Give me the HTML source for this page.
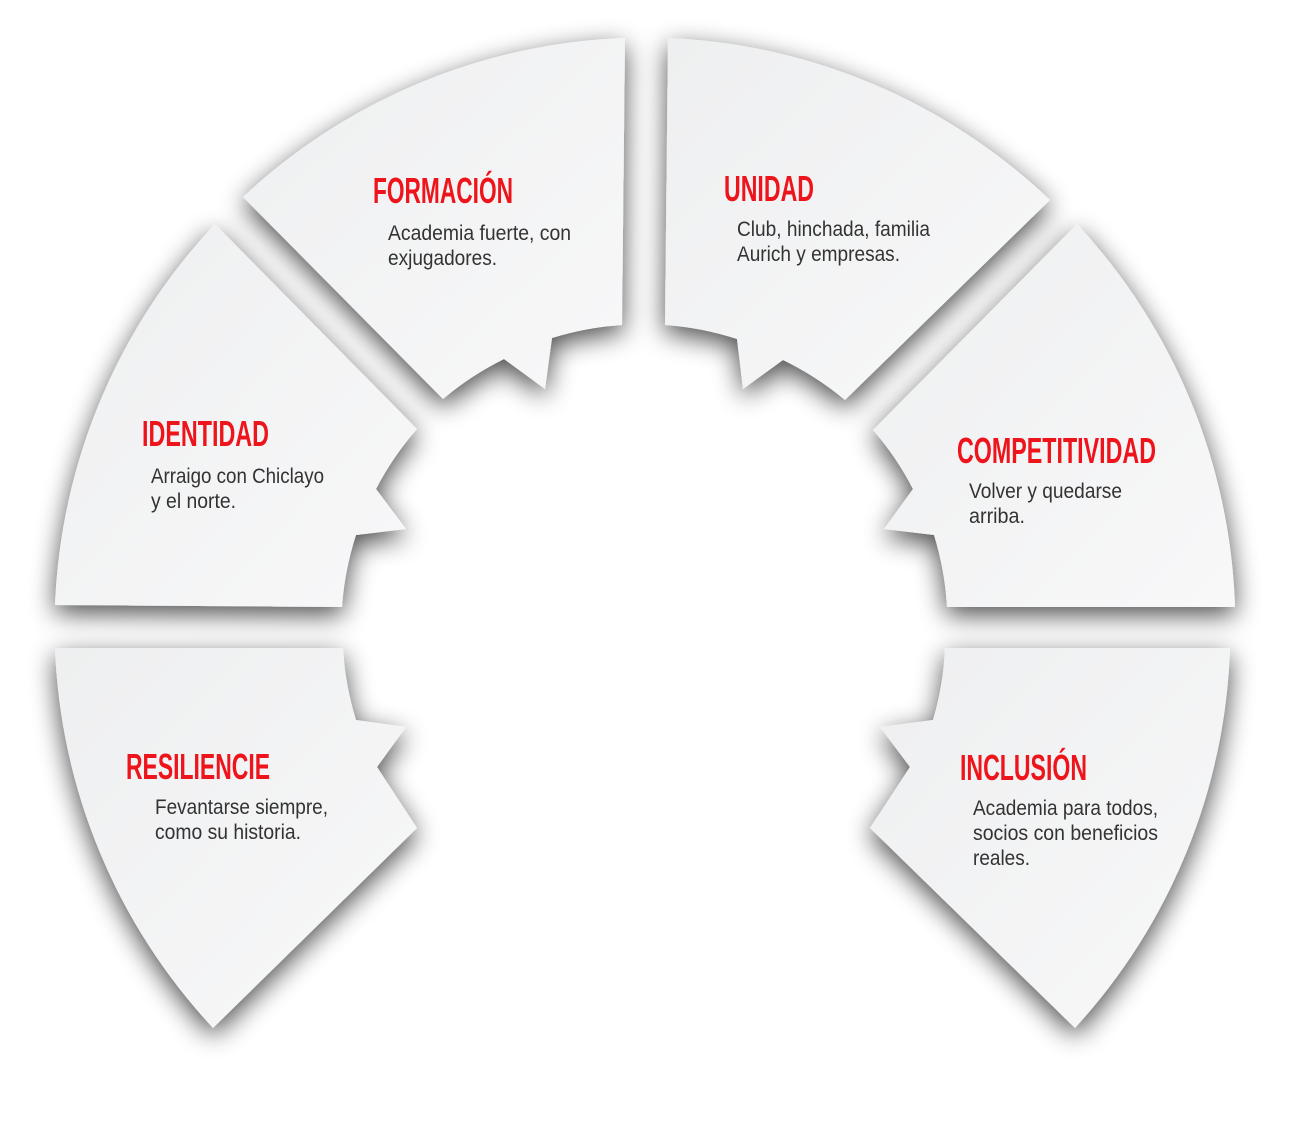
<!DOCTYPE html>
<html><head><meta charset="utf-8"><style>
html,body{margin:0;padding:0;background:#fff;width:1290px;height:1125px;overflow:hidden}
svg{display:block}
.t{font-family:"Liberation Sans Narrow","Liberation Sans",sans-serif;font-weight:bold;font-size:36px;fill:#ee141b}
.b{font-family:"Liberation Sans Narrow","Liberation Sans",sans-serif;font-size:21px;fill:#333}
</style></head><body>
<svg width="1290" height="1125" viewBox="0 0 1290 1125" xmlns="http://www.w3.org/2000/svg">
<defs>
<filter id="sh" x="-25%" y="-25%" width="150%" height="150%">
<feGaussianBlur in="SourceAlpha" stdDeviation="13"/>
<feOffset dx="0" dy="8"/>
<feComponentTransfer><feFuncA type="linear" slope="0.7"/></feComponentTransfer>
<feMerge><feMergeNode/><feMergeNode in="SourceGraphic"/></feMerge>
</filter>
<linearGradient id="g" x1="0" y1="0" x2="1" y2="1">
<stop offset="0" stop-color="#eeeff0"/><stop offset="1" stop-color="#f8f8f9"/>
</linearGradient>
</defs>
<g fill="url(#g)" filter="url(#sh)">
<path d="M243,197 A590,590 0 0 1 625,38 L622,325 A300,300 0 0 0 552,338 L545,389 L504,359 A300,300 0 0 0 443,399 Z"/>
<path d="M668,38 A590,590 0 0 1 1050,200 L845,400 A300,300 0 0 0 783,360 L743,389 L737,339 A300,300 0 0 0 665,325 Z"/>
<path d="M215,224 L417,429 A300,300 0 0 0 376,489 L406,529 L356,535 A300,300 0 0 0 342,607 L55,605 A590,590 0 0 1 215,224 Z"/>
<path d="M1077,224 L873,430 A300,300 0 0 1 913,489 L884,529 L934,535 A300,300 0 0 1 947,607 L1235,607 A590,590 0 0 0 1077,224 Z"/>
<path d="M55,648 L343,648 A300,300 0 0 0 356,720 L406,727 L377,767 L417,828 L213,1028 A590,590 0 0 1 55,648 Z"/>
<path d="M1230,648 L945,648 A300,300 0 0 1 933,720 L880,727 L910,767 L870,828 L1075,1028 A590,590 0 0 0 1230,648 Z"/>
</g>
<text class="t" x="373" y="203" textLength="140" lengthAdjust="spacingAndGlyphs">FORMACIÓN</text>
<text class="b" x="388" y="240" textLength="183" lengthAdjust="spacingAndGlyphs">Academia fuerte, con</text>
<text class="b" x="388" y="265" textLength="109" lengthAdjust="spacingAndGlyphs">exjugadores.</text>

<text class="t" x="724" y="201" textLength="90" lengthAdjust="spacingAndGlyphs">UNIDAD</text>
<text class="b" x="737" y="236" textLength="193" lengthAdjust="spacingAndGlyphs">Club, hinchada, familia</text>
<text class="b" x="737" y="261" textLength="163" lengthAdjust="spacingAndGlyphs">Aurich y empresas.</text>

<text class="t" x="142" y="446" textLength="127" lengthAdjust="spacingAndGlyphs">IDENTIDAD</text>
<text class="b" x="151" y="483" textLength="173" lengthAdjust="spacingAndGlyphs">Arraigo con Chiclayo</text>
<text class="b" x="151" y="508" textLength="85" lengthAdjust="spacingAndGlyphs">y el norte.</text>

<text class="t" x="957" y="463" textLength="199" lengthAdjust="spacingAndGlyphs">COMPETITIVIDAD</text>
<text class="b" x="969" y="498" textLength="153" lengthAdjust="spacingAndGlyphs">Volver y quedarse</text>
<text class="b" x="969" y="523" textLength="56" lengthAdjust="spacingAndGlyphs">arriba.</text>

<text class="t" x="126" y="779" textLength="144" lengthAdjust="spacingAndGlyphs">RESILIENCIE</text>
<text class="b" x="155" y="814" textLength="173" lengthAdjust="spacingAndGlyphs">Fevantarse siempre,</text>
<text class="b" x="155" y="839" textLength="146" lengthAdjust="spacingAndGlyphs">como su historia.</text>

<text class="t" x="960" y="780" textLength="127" lengthAdjust="spacingAndGlyphs">INCLUSIÓN</text>
<text class="b" x="973" y="815" textLength="185" lengthAdjust="spacingAndGlyphs">Academia para todos,</text>
<text class="b" x="973" y="840" textLength="185" lengthAdjust="spacingAndGlyphs">socios con beneficios</text>
<text class="b" x="973" y="865" textLength="57" lengthAdjust="spacingAndGlyphs">reales.</text>
</svg>
</body></html>
